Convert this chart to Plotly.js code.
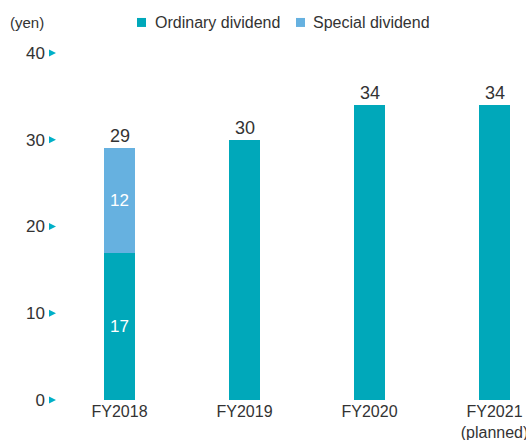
<!DOCTYPE html>
<html><head><meta charset="utf-8">
<script src="https://cdn.plot.ly/plotly-3.0.1.min.js"></script>
<style>html,body{margin:0;padding:0;background:#fff}</style>
</head><body>
<div id="chart" style="width:526px;height:440px"></div>
<script>
const categories = ['FY2018', 'FY2019', 'FY2020', 'FY2021'];
const categoryLabels = ['FY2018', 'FY2019', 'FY2020', 'FY2021<br>(planned)'];
const seriesNames = ['Ordinary dividend', 'Special dividend'];
const ordinary = [17, 30, 34, 34];
const special = [12, 0, 0, 0];
const ordinaryInside = ['17', '', '', ''];
const specialInside = ['12', '', '', ''];
const yTicks = [0, 10, 20, 30, 40];
const yRange = [0, 40];

const teal = '#00a8ba';
const lightBlue = '#66b1e0';
const colors = [teal, lightBlue];
const textColor = '#333333';
const fontFam = 'Liberation Sans, Arial, sans-serif';

const totals = categories.map((c, i) => ordinary[i] + special[i]);

const traces = [
  {type: 'bar', name: seriesNames[0], x: categories, y: ordinary, marker: {color: teal},
   text: ordinaryInside, textposition: 'inside', insidetextanchor: 'middle',
   textfont: {color: '#ffffff', size: 17, family: fontFam}, hoverinfo: 'none'},
  {type: 'bar', name: seriesNames[1], x: categories, y: special, marker: {color: lightBlue},
   text: specialInside, textposition: 'inside', insidetextanchor: 'middle',
   textfont: {color: '#ffffff', size: 17, family: fontFam}, hoverinfo: 'none'}
];

const annotations = categories.map((c, i) => ({
  x: c, y: totals[i], xref: 'x', yref: 'y', text: String(totals[i]),
  showarrow: false, yanchor: 'bottom', yshift: 0,
  font: {size: 18, color: textColor, family: fontFam}
}));
annotations.push({
  xref: 'paper', yref: 'paper', x: -0.104, y: 1.088, xanchor: 'left', yanchor: 'middle',
  text: '(yen)', showarrow: false, font: {size: 15, color: textColor, family: fontFam}
});

// manual legend (swatch + label)
const legendSwatchX = [0.1706, 0.5096];
const legendTextX = [0.2047, 0.5416];
const legendY = 1.088;
const shapes = [];
seriesNames.forEach((n, i) => {
  shapes.push({type: 'path', xref: 'paper', yref: 'paper', xsizemode: 'pixel', ysizemode: 'pixel',
    xanchor: legendSwatchX[i], yanchor: legendY, path: 'M0,-4.5 L9,-4.5 L9,4.5 L0,4.5 Z',
    fillcolor: colors[i], line: {width: 0}});
  annotations.push({xref: 'paper', yref: 'paper', x: legendTextX[i], y: legendY,
    xanchor: 'left', yanchor: 'middle', text: n, showarrow: false,
    font: {size: 16, color: textColor, family: fontFam}});
});
// tick pointer triangles (paper-referenced so they are not clipped at the range ends)
yTicks.forEach(v => {
  shapes.push({type: 'path', xref: 'paper', yref: 'paper', xsizemode: 'pixel', ysizemode: 'pixel',
    xanchor: 0, yanchor: (v - yRange[0]) / (yRange[1] - yRange[0]), path: 'M-8,-3.5 L-1,0 L-8,3.5 Z',
    fillcolor: '#00b0c8', line: {width: 0}});
});

const layout = {
  width: 526, height: 440,
  margin: {l: 57, r: 0, t: 53, b: 40},
  paper_bgcolor: '#ffffff', plot_bgcolor: '#ffffff',
  barmode: 'stack', bargap: 0.752,
  showlegend: false,
  xaxis: {type: 'category', range: [-0.5, 3.252], showgrid: false, showline: false, zeroline: false,
          tickmode: 'array', tickvals: categories, ticktext: categoryLabels, ticks: '',
          tickfont: {size: 16, color: textColor, family: fontFam}, fixedrange: true},
  yaxis: {range: yRange, showgrid: false, showline: false, zeroline: false, ticks: '',
          tickmode: 'array', tickvals: yTicks, ticktext: yTicks.map(String),
          tickfont: {size: 17, color: textColor, family: fontFam}, ticklabelstandoff: 11, fixedrange: true},
  annotations: annotations,
  shapes: shapes,
  font: {family: fontFam, color: textColor}
};

Plotly.newPlot('chart', traces, layout, {displayModeBar: false, staticPlot: true});
</script>
</body></html>
